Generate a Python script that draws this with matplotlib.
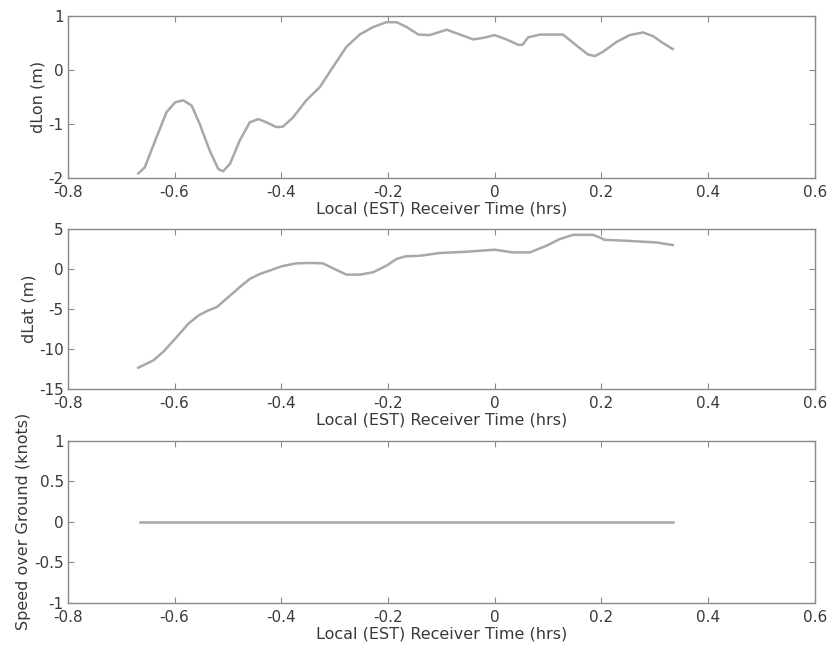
import matplotlib
matplotlib.use("Agg")
import matplotlib.pyplot as plt
from matplotlib.ticker import FuncFormatter

# dLon trace (hrs, m)
lon_t = [-0.668, -0.656, -0.634, -0.615, -0.599, -0.584, -0.568, -0.553, -0.534, -0.518,
         -0.509, -0.496, -0.478, -0.459, -0.443, -0.428, -0.409, -0.397, -0.378, -0.353,
         -0.328, -0.303, -0.278, -0.253, -0.228, -0.203, -0.184, -0.165, -0.143, -0.122,
         -0.090, -0.065, -0.040, -0.021, 0.000, 0.022, 0.044, 0.052, 0.063, 0.085,
         0.128, 0.153, 0.175, 0.188, 0.203, 0.228, 0.253, 0.278, 0.297, 0.316, 0.334]
lon_m = [-1.92, -1.81, -1.25, -0.78, -0.60, -0.56, -0.66, -1.00, -1.50, -1.84,
         -1.88, -1.74, -1.31, -0.97, -0.91, -0.97, -1.06, -1.05, -0.88, -0.56,
         -0.32, 0.06, 0.43, 0.66, 0.80, 0.89, 0.89, 0.80, 0.66, 0.65,
         0.75, 0.66, 0.57, 0.60, 0.65, 0.57, 0.47, 0.47, 0.61, 0.66,
         0.66, 0.46, 0.29, 0.26, 0.34, 0.52, 0.65, 0.70, 0.63, 0.50, 0.39]

# dLat trace (hrs, m)
lat_t = [-0.668, -0.640, -0.621, -0.596, -0.574, -0.555, -0.537, -0.521, -0.503, -0.478,
         -0.459, -0.440, -0.422, -0.400, -0.372, -0.346, -0.322, -0.303, -0.278, -0.253,
         -0.228, -0.203, -0.184, -0.168, -0.140, -0.103, -0.053, -0.028, 0.000, 0.034,
         0.066, 0.097, 0.122, 0.147, 0.184, 0.197, 0.206, 0.247, 0.303, 0.334]
lat_m = [-12.3, -11.4, -10.3, -8.47, -6.80, -5.77, -5.15, -4.74, -3.70, -2.25,
         -1.21, -0.59, -0.18, 0.35, 0.73, 0.78, 0.73, 0.11, -0.68, -0.68,
         -0.39, 0.44, 1.27, 1.60, 1.68, 2.02, 2.18, 2.30, 2.43, 2.10,
         2.10, 2.93, 3.76, 4.29, 4.29, 3.96, 3.67, 3.55, 3.34, 3.01]

# speed over ground (hrs, knots)
sog_t = [-0.665, 0.335]
sog_k = [0.0, 0.0]

x_ticks = [-0.8, -0.6, -0.4, -0.2, 0, 0.2, 0.4, 0.6]
lon_ticks = [-2, -1, 0, 1]
lat_ticks = [-15, -10, -5, 0, 5]
sog_ticks = [-1, -0.5, 0, 0.5, 1]

plt.rcParams['font.family'] = ['DejaVu Sans']
plt.rcParams['axes.unicode_minus'] = False

line_col = '#a8a8a8'
frame_col = '#8a8a8a'
text_col = '#3a3a3a'
fmt = FuncFormatter(lambda v, p: '%g' % v)

fig = plt.figure(figsize=(8.28, 6.51), dpi=100)
boxes = [[0.082, 0.727, 0.902, 0.248],
         [0.082, 0.402, 0.902, 0.246],
         [0.082, 0.074, 0.902, 0.249]]
panels = [(lon_t, lon_m, lon_ticks, 'dLon (m)'),
          (lat_t, lat_m, lat_ticks, 'dLat (m)'),
          (sog_t, sog_k, sog_ticks, 'Speed over Ground (knots)')]

for box, (t, v, yt, lab) in zip(boxes, panels):
    ax = fig.add_axes(box)
    ax.plot(t, v, color=line_col, lw=1.8, solid_joinstyle='round')
    ax.set_xlim(-0.8, 0.6)
    ax.set_ylim(yt[0], yt[-1])
    ax.set_xticks(x_ticks)
    ax.set_yticks(yt)
    ax.xaxis.set_major_formatter(fmt)
    ax.yaxis.set_major_formatter(fmt)
    ax.tick_params(direction='in', top=True, right=True, length=4,
                   color=frame_col, labelcolor=text_col, labelsize=11)
    ax.tick_params(axis='x', pad=5)
    ax.tick_params(axis='y', pad=3)
    for s in ax.spines.values():
        s.set_color(frame_col)
        s.set_linewidth(1.0)
    ax.set_xlabel('Local (EST) Receiver Time (hrs)', color=text_col, fontsize=11.5, labelpad=1)
    ax.set_ylabel(lab, color=text_col, fontsize=11.5, labelpad=2)

fig.savefig('out.png', dpi=100)
